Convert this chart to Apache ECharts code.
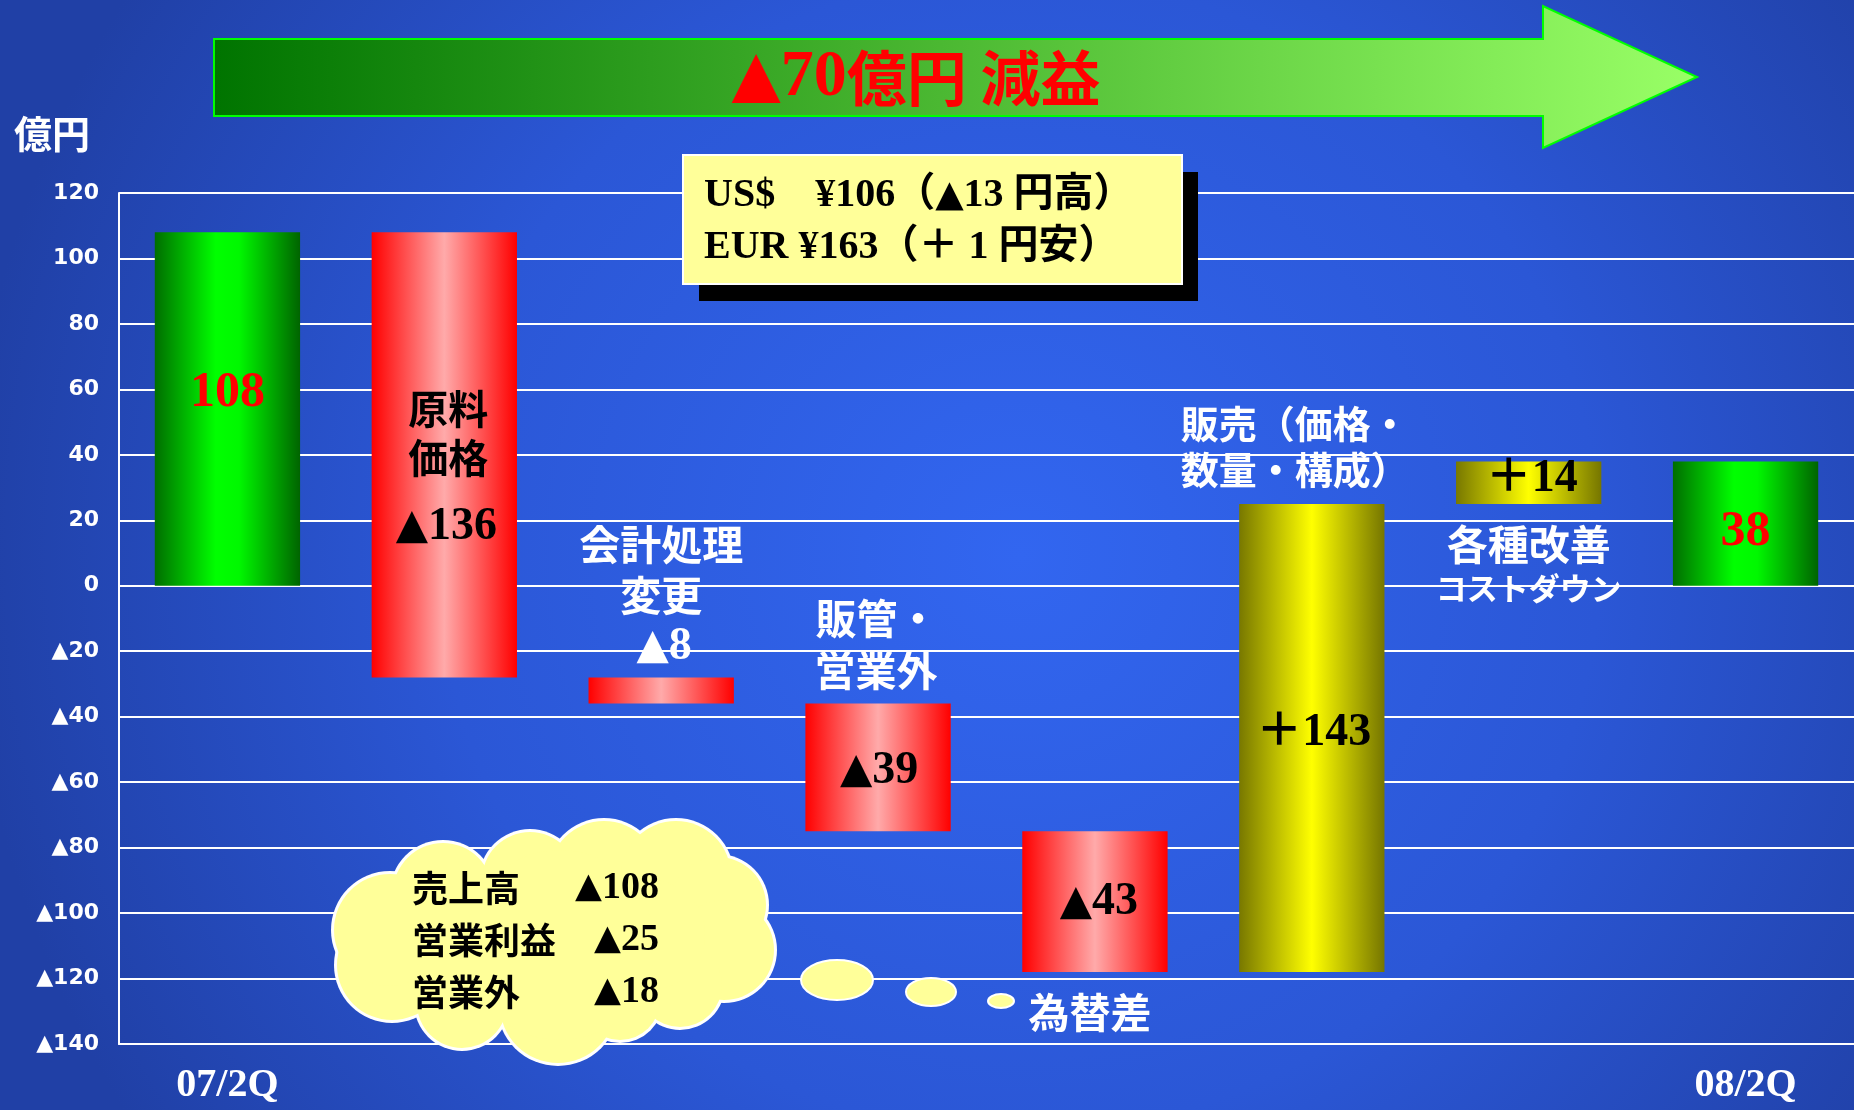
<!DOCTYPE html>
<html><head><meta charset="utf-8">
<script src="https://cdn.jsdelivr.net/npm/echarts@6/dist/echarts.min.js"></script>
<style>html,body{margin:0;padding:0;background:#2446b0;}#c{width:1854px;height:1110px;}</style>
</head><body><div id="c"></div>
<script>
// ---- data ----
const categories = ['07/2Q','原料価格','会計処理変更','販管・営業外','為替差','販売','各種改善','08/2Q'];
const xTickLabels = ['07/2Q','','','','','','','08/2Q'];
const barStart = [0, 108, -28, -36, -75, -118, 25, 0];
const barEnd   = [108, -28, -36, -75, -118, 25, 38, 38];
const barKind  = ['total','down','down','down','down','up','up','total'];
const valueLabels = ['108','▲136','▲8','▲39','▲43','＋143','＋14','38'];
const yMin = -140, yMax = 120, yInterval = 20;
const bannerText = '▲70億円 減益';
const unitText = '億円';
const currencyLines = ['US$　¥106（▲13 円高）','EUR ¥163（＋ 1 円安）'];
const cloudLabels = ['売上高','営業利益','営業外'];
const cloudValues = ['▲108','▲25','▲18'];

// ---- styles ----
const SERIF = "'Liberation Serif','Noto Sans CJK JP',serif";
const GOTHIC = "'Noto Sans CJK JP','Noto Sans',sans-serif";
const TRI = "'DejaVu Sans',sans-serif";
const G = echarts.graphic;
function grad(kind){
  if(kind==='total') return new G.LinearGradient(0,0,1,0,[{offset:0,color:'#006e00'},{offset:0.42,color:'#00ff00'},{offset:0.58,color:'#00f800'},{offset:1,color:'#006400'}]);
  if(kind==='down') return new G.LinearGradient(0,0,1,0,[{offset:0,color:'#ff0000'},{offset:0.5,color:'#ffaaaa'},{offset:1,color:'#ff0000'}]);
  return new G.LinearGradient(0,0,1,0,[{offset:0,color:'#787800'},{offset:0.5,color:'#ffff00'},{offset:1,color:'#767600'}]);
}

const chart = echarts.init(document.getElementById('c'));
const option = {
  animation:false,
  backgroundColor: new G.RadialGradient(0.55,0.5,0.95,[{offset:0,color:'#3266f0'},{offset:0.55,color:'#2b57d6'},{offset:1,color:'#2040a6'}]),
  grid:{left:119,right:0,top:193,bottom:66,containLabel:false},
  xAxis:{type:'category',data:categories,boundaryGap:true,
    axisLine:{show:true,onZero:false,lineStyle:{color:'#ffffff',width:2}},
    axisTick:{show:false},
    axisLabel:{interval:0,margin:22,color:'#ffffff',fontFamily:SERIF,fontWeight:'bold',fontSize:40,
      formatter:(v,i)=>xTickLabels[i]}},
  yAxis:{type:'value',min:yMin,max:yMax,interval:yInterval,
    axisLine:{show:true,lineStyle:{color:'#ffffff',width:2}},
    axisTick:{show:false},
    axisLabel:{margin:20,color:'#ffffff',fontFamily:TRI,fontWeight:'bold',fontSize:22,
      formatter:v=>v<0?('▲'+(-v)):String(v)},
    splitLine:{show:true,lineStyle:{color:'#ffffff',width:2}}},
  series:[{
    type:'custom',
    data:categories.map((c,i)=>[i,barStart[i],barEnd[i]]),
    renderItem:(params,api)=>{
      const i=api.value(0);
      const p1=api.coord([i,api.value(1)]);
      const p2=api.coord([i,api.value(2)]);
      const w=api.size([1,0])[0]*0.67;
      return {type:'rect',shape:{x:p1[0]-w/2,y:Math.min(p1[1],p2[1]),width:w,height:Math.abs(p1[1]-p2[1])},
        style:{fill:grad(barKind[i])}};
    },
    z:3
  }]
};
chart.setOption(option);

const px=(c,v)=>chart.convertToPixel({xAxisIndex:0,yAxisIndex:0},[c,v]);
function txt(text,x,y,color,size,family,align){
  return {type:'text',x:x,y:y,z:20,style:{text:text.replace(/▲/g,'{t|▲}'),fill:color,fontSize:size,fontFamily:family,fontWeight:'bold',
    align:align||'center',verticalAlign:'middle',
    rich:{t:{fontFamily:TRI,fontWeight:'bold',fontSize:Math.round(size*0.92),fill:color}}}};
}
// annotation layout: [text, category, yValue, color, size, family, dx]
const ann = [
  [valueLabels[0],0,59,'#ff0000',50,SERIF,0],
  ['原料',1,54,'#000000',40,GOTHIC,4],
  ['価格',1,39,'#000000',40,GOTHIC,4],
  [valueLabels[1],1,18,'#000000',46,SERIF,2],
  ['会計処理',2,12.6,'#ffffff',41,GOTHIC,0],
  ['変更',2,-2.9,'#ffffff',41,GOTHIC,0],
  [valueLabels[2],2,-18.8,'#ffffff',46,SERIF,3],
  ['販管・',3,-10.1,'#ffffff',41,GOTHIC,-1],
  ['営業外',3,-26,'#ffffff',41,GOTHIC,-2],
  [valueLabels[3],3,-56.7,'#000000',46,SERIF,1],
  [valueLabels[4],4,-96.8,'#000000',46,SERIF,4],
  ['為替差',4,-130.5,'#ffffff',41,GOTHIC,-5],
  ['販売（価格・',5,49.5,'#ffffff',38,GOTHIC,-17],
  ['数量・構成）',5,35.4,'#ffffff',38,GOTHIC,-17],
  [valueLabels[5],5,-45.1,'#000000',46,SERIF,2],
  [valueLabels[6],6,32.5,'#000000',46,SERIF,3],
  ['各種改善',6,12.6,'#ffffff',41,GOTHIC,0],
  ['コストダウン',6,-0.7,'#ffffff',31,GOTHIC,0],
  [valueLabels[7],7,16.3,'#ff0000',50,SERIF,0]
];
const graphics=[];
// banner arrow
graphics.push({type:'polygon',z:10,shape:{points:[[214,39],[1543,39],[1543,6],[1697,77],[1543,148],[1543,116],[214,116]]},
  style:{fill:new G.LinearGradient(0,0,1,0,[{offset:0,color:'#007400'},{offset:1,color:'#99ff66'}]),stroke:'#00ff00',lineWidth:2}});
graphics.push({type:'text',x:916,y:78,z:20,style:{
  text:bannerText.replace('▲','{t|▲}').replace('70','{n|70}'),fill:'#ff0000',fontSize:60,fontFamily:GOTHIC,fontWeight:'bold',
  align:'center',verticalAlign:'middle',
  rich:{t:{fontFamily:TRI,fontSize:64,fontWeight:'bold',fill:'#ff0000'},n:{fontFamily:SERIF,fontSize:66,fontWeight:'bold',fill:'#ff0000'}}}});
graphics.push(txt(unitText,14,134,'#ffffff',38,GOTHIC,'left'));
// currency box
graphics.push({type:'rect',z:10,shape:{x:699,y:172,width:499,height:129},style:{fill:'#000000'}});
graphics.push({type:'rect',z:11,shape:{x:683,y:155,width:499,height:129},style:{fill:'#ffff99',stroke:'#ffffff',lineWidth:2}});
graphics.push(txt(currencyLines[0],704,196,'#000000',40,SERIF,'left'));
graphics.push(txt(currencyLines[1],704,248,'#000000',40,SERIF,'left'));
// cloud
const lobes=[[443,893,50],[530,880,48],[604,876,55],[676,876,55],[718,905,48],[724,950,50],[680,985,42],[650,935,55],[620,1000,40],[558,1005,58],[462,1003,45],[392,965,55],[390,930,56],[460,950,45],[560,945,95]];
lobes.forEach(l=>graphics.push({type:'circle',z:12,shape:{cx:l[0],cy:l[1],r:l[2]+3},style:{fill:'#ffffff'}}));
lobes.forEach(l=>graphics.push({type:'circle',z:13,shape:{cx:l[0],cy:l[1],r:l[2]},style:{fill:'#ffff99'}}));
[[837,980,36,20],[931,992,25,14],[1001,1001,13,7]].forEach(b=>graphics.push({type:'ellipse',z:13,shape:{cx:b[0],cy:b[1],rx:b[2],ry:b[3]},style:{fill:'#ffff99',stroke:'#ffffff',lineWidth:2}}));
cloudLabels.forEach((t,i)=>{
  graphics.push(txt(t,412,888+i*52,'#000000',36,GOTHIC,'left'));
  graphics.push(txt(cloudValues[i],659,888+i*52,'#000000',38,SERIF,'right'));
});
ann.forEach(a=>{const p=px(a[1],a[2]);graphics.push(txt(a[0],p[0]+a[6],p[1],a[3],a[4],a[5]));});
chart.setOption({graphic:graphics});
</script></body></html>
